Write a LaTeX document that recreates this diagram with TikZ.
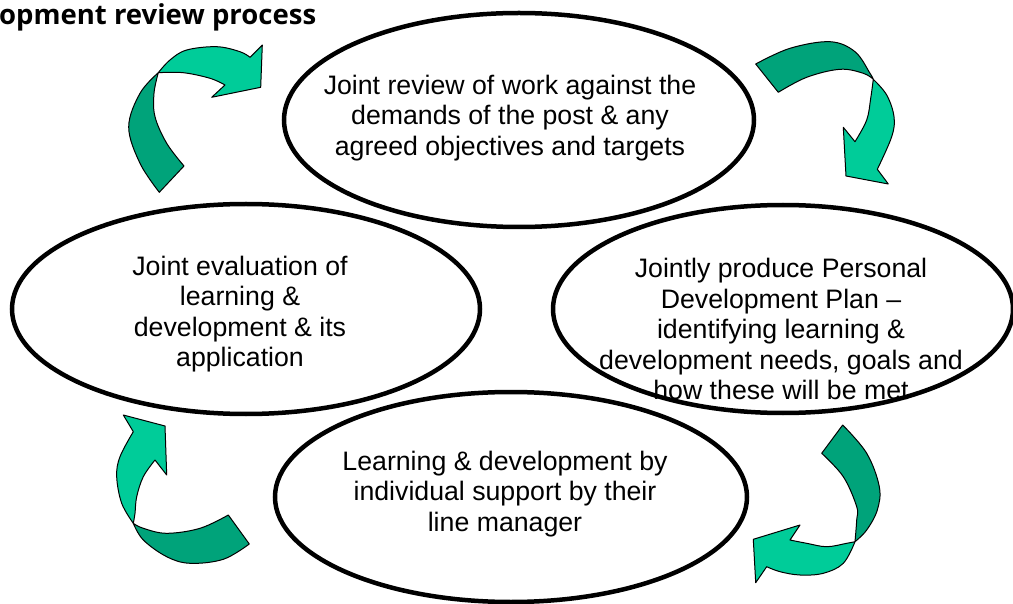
\documentclass[tikz,border=0pt]{standalone}
\usepackage{fontspec}
\setmainfont{Liberation Sans}
\newfontfamily\titlefont{Open Sans}
\usetikzlibrary{shapes.geometric}
\definecolor{arrlight}{RGB}{0,204,153}
\definecolor{arrdark}{RGB}{0,163,122}
\begin{document}
\begin{tikzpicture}[x=1pt,y=-1pt,
  oval/.style={ellipse, draw, line width=4.5pt, fill=white, inner sep=0pt},
  txt/.style={align=center, inner sep=0pt, font=\fontsize{26.7}{30.5}\selectfont},
  lightpart/.style={fill=arrlight, draw=black, line width=1pt, line join=round},
  darkpart/.style={fill=arrdark, draw=black, line width=1pt, line join=round},
  sm/.style={smooth, tension=0.6}]
\useasboundingbox (0,0) rectangle (1013,604);
\clip (0,0) rectangle (1013,604);

% title
\node[anchor=base west, inner sep=0pt, font=\titlefont\bfseries\fontsize{27.5}{32}\selectfont] (title) at (-1,25) {opment review process};

% ellipses
\node[oval, minimum width=470pt, minimum height=214pt] (top) at (519,120) {};
\node[oval, minimum width=468pt, minimum height=210pt] (left) at (246,309) {};
\node[oval, minimum width=460pt, minimum height=208pt] (right) at (783,309) {};
\node[oval, minimum width=472pt, minimum height=210pt] (bottom) at (511,497) {};

% texts
\node[txt] (ttop) at (510,118) {Joint review of work against the\\demands of the post \& any\\agreed objectives and targets};
\node[txt] (tleft) at (240,314) {Joint evaluation of\\learning \&\\development \& its\\application};
\node[txt] (tright) at (781,329) {Jointly produce Personal\\Development Plan --\\identifying learning \&\\development needs, goals and\\how these will be met};
\node[txt] (tbottom) at (505,494) {Learning \& development by\\individual support by their\\line manager};

% arrow 1 (top-left)
\path[darkpart] (159.3,192.3) -- plot[sm] coordinates {(159.3,192.3) (140,163.3) (128.7,127) (140,93.3) (158.3,72.7)}
  -- plot[sm] coordinates {(158.3,72.7) (154,93.3) (155,116.7) (166.7,143.3) (184,166)} -- cycle;
\path[lightpart] (158.3,72.7) -- plot[sm] coordinates {(158.3,72.7) (170,60) (186.7,50) (216.7,46.7) (240,51.7) (250,57.3)}
  -- (262.3,45) -- (260.7,87.3) -- (211.7,97.3) -- (225,85)
  -- plot[sm] coordinates {(225,85) (210,78.3) (183.3,72.7) (158.3,72.7)} -- cycle;

% arrow 2 (top-right)
\path[darkpart] (755.7,64) -- plot[sm] coordinates {(755.7,64) (790,48.3) (830,41.7) (855,51.7) (870,73.3) (873.3,79.3)}
  -- plot[sm] coordinates {(873.3,79.3) (863.3,73.3) (840,69.3) (806.7,77.3) (778.3,92.3)} -- cycle;
\path[lightpart] (873.3,79.3) -- plot[sm] coordinates {(873.3,79.3) (886.7,95) (894,116.7) (891.7,136.7) (877.3,169.3)}
  -- (888.3,184) -- (846,176) -- (843.3,127.3) -- (855,141.7)
  -- plot[sm] coordinates {(855,141.7) (866.7,120) (870.7,98.3) (873.3,79.3)} -- cycle;

% arrow 3 (bottom-right)
\path[darkpart] (842.7,425) -- plot[sm] coordinates {(842.7,425) (866.7,453.3) (879.3,486.7) (877.3,510) (866.7,530) (855,541.7)}
  -- plot[sm] coordinates {(855,541.7) (856.7,520) (856.7,506.7) (843.3,476.7) (821.7,453.3)} -- cycle;
\path[lightpart] (855,541.7) -- plot[sm] coordinates {(855,541.7) (843.3,563.3) (823.3,573.3) (800,575) (780,571.7) (766.7,566.7)}
  -- (755.7,582.7) -- (753.3,539.3) -- (800,525) -- (790,540)
  -- plot[sm] coordinates {(790,540) (806.7,543.3) (826.7,546.7) (846.7,543.3) (855,541.7)} -- cycle;

% arrow 4 (bottom-left)
\path[darkpart] (133.3,523.3) -- plot[sm] coordinates {(133.3,523.3) (143.3,540) (166.7,556.7) (190,563.3) (223.3,559.3) (249.3,544)}
  -- (228.3,515) -- plot[sm] coordinates {(228.3,515) (200,528.3) (166.7,533.3) (143.3,528.3) (133.3,523.3)} -- cycle;
\path[lightpart] (133.3,523.3) -- plot[sm] coordinates {(133.3,523.3) (121.7,503.3) (116.7,476.7) (120,456.7) (133.3,431.7)}
  -- (123.3,415) -- (165,426) -- (166.7,475) -- (155,460)
  -- plot[sm] coordinates {(155,460) (143.3,476.7) (136.7,496.7) (135,513.3) (133.3,523.3)} -- cycle;
\end{tikzpicture}
\end{document}
